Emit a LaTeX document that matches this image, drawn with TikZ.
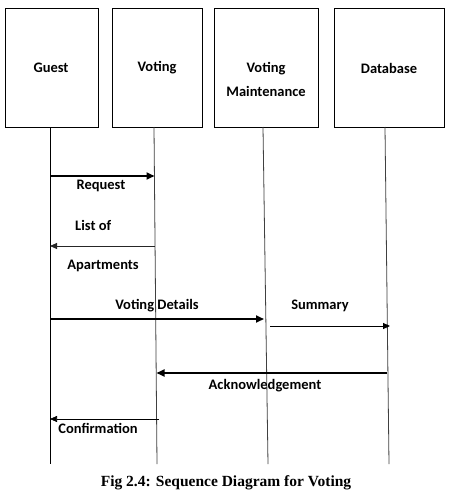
\documentclass[tikz,border=0pt]{standalone}
\usepackage{fontspec}
\setmainfont{Carlito}
\newfontfamily\capfont{Liberation Serif}
\usetikzlibrary{arrows.meta}
\begin{document}
\begin{tikzpicture}[x=1pt,y=-1pt,
  box/.style={draw,line width=0.9pt,inner sep=0pt,anchor=north west},
  lbl/.style={font=\bfseries\fontsize{14.5}{24}\selectfont,align=center,inner sep=0pt},
  life/.style={line width=0.8pt},
  msg/.style={line width=1.8pt,-{Triangle[length=8pt,width=7pt]}},
  thinmsg/.style={line width=0.9pt,-{Triangle[length=7pt,width=6pt]}},
  mtxt/.style={font=\bfseries\fontsize{14.5}{16}\selectfont,inner sep=0pt}]
\useasboundingbox (0,0) rectangle (448,490);
\fill[white] (0,0) rectangle (448,490);

% participant boxes
\node[box,minimum width=93pt,minimum height=119pt] (guest) at (5,8) {};
\node[box,minimum width=90pt,minimum height=119pt] (voting) at (112,8) {};
\node[box,minimum width=104pt,minimum height=119pt] (maint) at (214,8) {};
\node[box,minimum width=110pt,minimum height=119pt] (db) at (334,8) {};

\node[lbl] (guestlbl) at (51,68) {Guest};
\node[lbl] (votinglbl) at (157,68) {Voting};
\node[lbl] (maintlbl) at (266,79) {Voting\\Maintenance};
\node[lbl] (dblbl) at (389,68) {Database};

% lifelines
\coordinate (gtop) at (50,127);   \coordinate (gend) at (50,464);
\coordinate (vtop) at (154,127);  \coordinate (vend) at (157,464);
\coordinate (mtop) at (263,127);  \coordinate (mend) at (268,464);
\coordinate (dtop) at (385,127);  \coordinate (dend) at (389,464);
\draw[life] (gtop) -- (gend);
\draw[life,black!75] (vtop) -- (vend);
\draw[life,black!75] (mtop) -- (mend);
\draw[life,black!75] (dtop) -- (dend);

% message end points on the lifelines
\coordinate (reqA) at (50,176);  \coordinate (reqB) at (154.5,176);
\coordinate (listA) at (154.8,246); \coordinate (listB) at (50,246);
\coordinate (detA) at (50,319);  \coordinate (detB) at (264,319);
\coordinate (sumA) at (270,326); \coordinate (sumB) at (390,326);
\coordinate (ackA) at (387,373); \coordinate (ackB) at (156.5,373);
\coordinate (conA) at (159,419); \coordinate (conB) at (50,419);

% messages
\draw[msg] (reqA) -- (reqB);
\draw[thinmsg,black!85] (listA) -- (listB);
\draw[msg] (detA) -- (detB);
\draw[thinmsg] (sumA) -- (sumB);
\draw[msg] (ackA) -- (ackB);
\draw[thinmsg,line width=0.7pt] (conA) -- (conB);

% message labels
\node[mtxt] (reqlbl) at (101,186) {Request};
\node[mtxt,anchor=west] (listlbl) at (75,225) {List of};
\node[mtxt] (aptlbl) at (103,266) {Apartments};
\node[mtxt] (detlbl) at (157,306) {Voting Details};
\node[mtxt] (sumlbl) at (320,306) {Summary};
\node[mtxt] (acklbl) at (265,386) {Acknowledgement};
\node[mtxt] (conlbl) at (98,428) {Confirmation};

% caption
\node[font=\capfont\bfseries\fontsize{15.5}{17}\selectfont,inner sep=0pt,anchor=base] (cap) at (226,486) {Fig 2.4: Sequence Diagram for Voting};
\end{tikzpicture}
\end{document}
